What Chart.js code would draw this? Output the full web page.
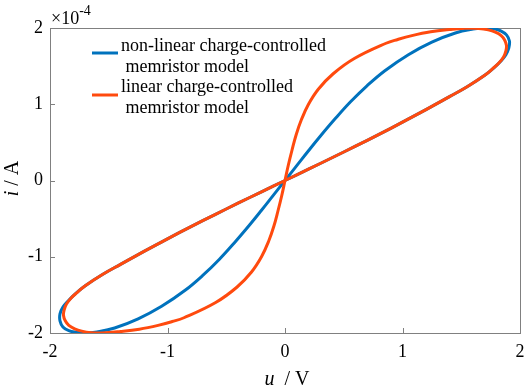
<!DOCTYPE html>
<html>
<head>
<meta charset="utf-8">
<script src="https://cdn.jsdelivr.net/npm/chart.js@4/dist/chart.umd.min.js"></script>
<style>
  html, body { margin: 0; padding: 0; background: #fff; }
  #wrap { width: 526px; height: 389px; position: relative; }
</style>
</head>
<body>
<div id="wrap"><canvas id="c" width="526" height="389"></canvas></div>
<script>
// ---- data (i values in units of 1e-4 A) ----
const xTicks = [-2, -1, 0, 1, 2];
const yTicks = [-2, -1, 0, 1, 2];
const yExponent = -4;

const labelNonLinear = ['non-linear charge-controlled', ' memristor model'];
const labelLinear = ['linear charge-controlled', ' memristor model'];

// non-linear charge-controlled memristor model (closed loop)
const uNonLinear = [0, 0.1, 0.2, 0.3, 0.43, 0.56, 0.7, 0.85, 1.05, 1.25, 1.45, 1.6, 1.7, 1.78, 1.84, 1.885, 1.91, 1.905, 1.88, 1.84, 1.78,
  1.7, 1.55, 1.4, 1.2, 1.0, 0.8, 0.6, 0.4, 0.2, 0,
  -0.2, -0.4, -0.6, -0.8, -1.0, -1.2, -1.4, -1.55, -1.7, -1.78, -1.84, -1.89, -1.915, -1.915, -1.89, -1.84, -1.78, -1.7, -1.6, -1.45, -1.25,
  -1.05, -0.85, -0.7, -0.56, -0.43, -0.3, -0.2, -0.1, 0];
const iNonLinear = [0, 0.195, 0.39, 0.58, 0.815, 1.035, 1.245, 1.44, 1.65, 1.815, 1.935, 1.985, 2.0, 1.99, 1.96, 1.91, 1.83, 1.74, 1.65, 1.57, 1.48,
  1.38, 1.23, 1.1, 0.93, 0.765, 0.605, 0.45, 0.298, 0.148, 0,
  -0.148, -0.298, -0.45, -0.605, -0.765, -0.93, -1.1, -1.23, -1.38, -1.48, -1.57, -1.66, -1.75, -1.84, -1.92, -1.97, -1.99, -2.0, -1.985, -1.935, -1.815,
  -1.65, -1.44, -1.245, -1.035, -0.815, -0.58, -0.39, -0.195, 0];

// linear charge-controlled memristor model (closed loop)
const uLinear = [0, 0.028, 0.06, 0.095, 0.14, 0.2, 0.285, 0.41, 0.59, 0.86, 0.96, 1.08, 1.24, 1.4, 1.56,
  1.65, 1.73, 1.79, 1.84, 1.87, 1.885, 1.88, 1.86, 1.82, 1.77, 1.7, 1.55, 1.4, 1.2, 1.0, 0.8, 0.6, 0.4, 0.2, 0,
  -0.2, -0.4, -0.6, -0.8, -1.0, -1.2, -1.4, -1.55, -1.7, -1.77, -1.82, -1.86, -1.88, -1.885, -1.87, -1.84, -1.79, -1.73, -1.65,
  -1.56, -1.4, -1.24, -1.08, -0.96, -0.86, -0.59, -0.41, -0.285, -0.2, -0.14, -0.095, -0.06, -0.028, 0];
const iLinear = [0, 0.2, 0.4, 0.6, 0.8, 1.0, 1.2, 1.4, 1.6, 1.8, 1.85, 1.9, 1.95, 1.98, 2.0,
  1.995, 1.975, 1.945, 1.9, 1.84, 1.77, 1.7, 1.62, 1.54, 1.47, 1.38, 1.23, 1.1, 0.93, 0.765, 0.605, 0.45, 0.298, 0.148, 0,
  -0.148, -0.298, -0.45, -0.605, -0.765, -0.93, -1.1, -1.23, -1.38, -1.47, -1.54, -1.62, -1.7, -1.77, -1.84, -1.9, -1.945, -1.975, -1.995,
  -2.0, -1.98, -1.95, -1.9, -1.85, -1.8, -1.6, -1.4, -1.2, -1.0, -0.8, -0.6, -0.4, -0.2, 0];

const BLUE = '#0072BD';
const ORANGE = '#FF4A0E';
const AXIS = '#808080';
const FONT = 'Liberation Serif, Times New Roman, serif';

const toPts = (u, i) => u.map((x, k) => ({ x: x, y: i[k] }));

const decorPlugin = {
  id: 'decor',
  beforeDatasetsDraw(chart) {
    const { ctx, chartArea: a, scales } = chart;
    ctx.save();
    ctx.strokeStyle = AXIS;
    ctx.lineWidth = 1;
    ctx.strokeRect(Math.round(a.left) + 0.5, Math.round(a.top) + 0.5,
      Math.round(a.right - a.left), Math.round(a.bottom - a.top));
    ctx.beginPath();
    xTicks.forEach(v => {
      const px = Math.round(scales.x.getPixelForValue(v)) + 0.5;
      ctx.moveTo(px, a.bottom); ctx.lineTo(px, a.bottom - 5);
    });
    yTicks.forEach(v => {
      const py = Math.round(scales.y.getPixelForValue(v)) + 0.5;
      ctx.moveTo(a.left, py); ctx.lineTo(a.left + 5, py);
    });
    ctx.stroke();
    ctx.restore();
  },
  afterDraw(chart) {
    const { ctx, chartArea: a } = chart;
    ctx.save();
    ctx.fillStyle = '#000';
    ctx.textBaseline = 'alphabetic';
    ctx.textAlign = 'left';
    // exponent label
    ctx.font = '18px ' + FONT;
    ctx.fillText('\u00d710', a.left + 1, 24);
    const w = ctx.measureText('\u00d710').width;
    ctx.font = '14px ' + FONT;
    ctx.fillText(String(yExponent), a.left + 1 + w, 15);

    // legend
    const ds = chart.data.datasets;
    const rows = [
      { color: ds[0].borderColor, lines: labelNonLinear, y0: 51, lineY: 53 },
      { color: ds[1].borderColor, lines: labelLinear, y0: 92, lineY: 95 }
    ];
    rows.forEach(r => {
      ctx.strokeStyle = r.color;
      ctx.lineWidth = 3;
      ctx.beginPath();
      ctx.moveTo(92, r.lineY); ctx.lineTo(118, r.lineY);
      ctx.stroke();
      ctx.font = '18px ' + FONT;
      r.lines.forEach((t, k) => ctx.fillText(t, 121, r.y0 + k * 20.5));
    });

    // x axis title: "u  / V"
    ctx.font = '20px ' + FONT;
    const rest = '  / V';
    const wRest = ctx.measureText(rest).width;
    ctx.font = 'italic 20px ' + FONT;
    const wU = ctx.measureText('u').width;
    const cx = (a.left + a.right) / 2 + 2;
    const startX = cx - (wU + wRest) / 2;
    ctx.fillText('u', startX, 385);
    ctx.font = '20px ' + FONT;
    ctx.fillText(rest, startX + wU, 385);

    // y axis title: "i / A" rotated
    ctx.translate(18, (a.top + a.bottom) / 2 - 2);
    ctx.rotate(-Math.PI / 2);
    ctx.font = 'italic 20px ' + FONT;
    const wi = ctx.measureText('i').width;
    ctx.font = '20px ' + FONT;
    const wr = ctx.measureText(' / A').width;
    const sx = -(wi + wr) / 2;
    ctx.font = 'italic 20px ' + FONT;
    ctx.fillText('i', sx, 0);
    ctx.font = '20px ' + FONT;
    ctx.fillText(' / A', sx + wi, 0);
    ctx.restore();
  }
};

new Chart(document.getElementById('c'), {
  type: 'scatter',
  data: {
    datasets: [
      { label: labelNonLinear.join(' '), data: toPts(uNonLinear, iNonLinear), showLine: true,
        borderColor: BLUE, backgroundColor: BLUE, borderWidth: 3, pointRadius: 0, tension: 0.4, order: 2, fill: false },
      { label: labelLinear.join(' '), data: toPts(uLinear, iLinear), showLine: true,
        borderColor: ORANGE, backgroundColor: ORANGE, borderWidth: 3, pointRadius: 0, tension: 0.4, order: 1, fill: false }
    ]
  },
  options: {
    responsive: false,
    animation: false,
    devicePixelRatio: 1,
    layout: { padding: { top: 28, right: 6, left: 0, bottom: 0 } },
    plugins: { legend: { display: false }, tooltip: { enabled: false } },
    scales: {
      x: {
        type: 'linear', min: -2, max: 2,
        afterBuildTicks(s) { s.ticks = xTicks.map(v => ({ value: v })); },
        afterFit(s) { s.height = 56; s.paddingLeft = 0; s.paddingRight = 0; },
        ticks: { color: '#000', font: { family: FONT, size: 18 }, padding: 8, maxRotation: 0,
          callback: v => String(v) },
        grid: { display: false, drawTicks: false },
        border: { display: false }
      },
      y: {
        type: 'linear', min: -2, max: 2,
        afterBuildTicks(s) { s.ticks = yTicks.map(v => ({ value: v })); },
        afterFit(s) { s.width = 50; s.paddingTop = 0; s.paddingBottom = 0; },
        ticks: { color: '#000', font: { family: FONT, size: 18 }, padding: 7,
          callback: v => String(v) },
        grid: { display: false, drawTicks: false },
        border: { display: false }
      }
    }
  },
  plugins: [decorPlugin]
});
</script>
</body>
</html>
